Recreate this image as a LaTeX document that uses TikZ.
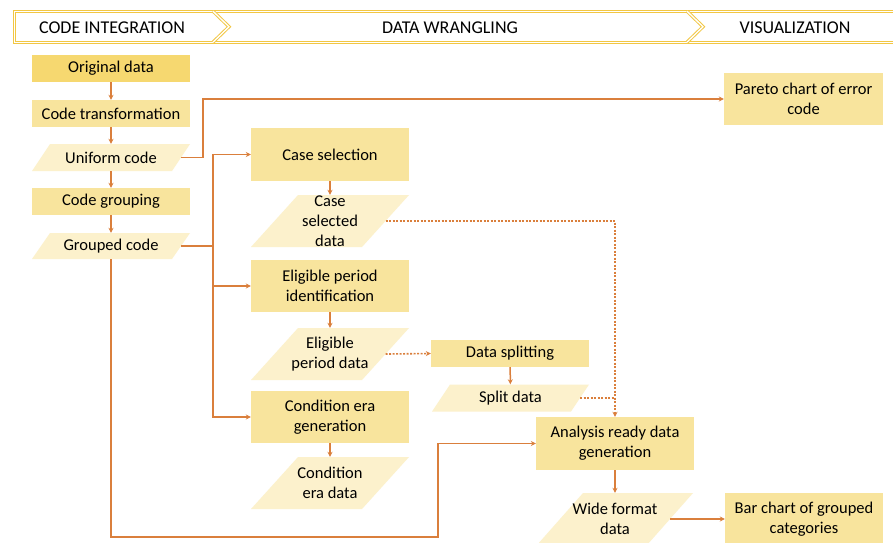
\documentclass[tikz,border=0pt]{standalone}
\usepackage{fontspec}
\setmainfont{Carlito}
\usetikzlibrary{arrows.meta}
\definecolor{gold}{HTML}{F2C744}
\definecolor{darkfill}{HTML}{F6D870}
\definecolor{boxfill}{HTML}{F8E49D}
\definecolor{datafill}{HTML}{FCF1CC}
\definecolor{conncol}{HTML}{DA7F3C}
\newcommand\myBody{\fontsize{16.5}{19.8}\selectfont}
\newcommand\myHead{\fontsize{18}{21}\selectfont}
\tikzset{
  banner/.style={draw=gold, line width=1pt, double=white, double distance=1.3pt, line join=miter},
  headtext/.style={inner sep=0pt, font=\myHead, text=black},
  box/.style={fill=boxfill, inner sep=0pt, minimum width=158pt, align=center, font=\myBody},
  topbox/.style={box, fill=darkfill},
  dtext/.style={inner sep=0pt, align=center, font=\myBody},
  arr/.style={draw=conncol, line width=1.5pt, -{Stealth[length=5pt,width=5pt]}},
  plain/.style={draw=conncol, line width=1.5pt},
  dotarr/.style={draw=conncol, line width=1.6pt, dash pattern=on 1.8pt off 1.7pt, -{Stealth[length=5pt,width=5pt]}},
  dotplain/.style={draw=conncol, line width=1.6pt, dash pattern=on 1.8pt off 1.7pt}
}
% name, cx, cy, midwidth, height, slant, text
\newcommand\mkdata[7]{%
  \fill[datafill] ({#2-#4/2+#6/2},{#3-#5/2}) -- ({#2+#4/2+#6/2},{#3-#5/2}) -- ({#2+#4/2-#6/2},{#3+#5/2}) -- ({#2-#4/2-#6/2},{#3+#5/2}) -- cycle;
  \node[dtext, minimum width=#4pt, minimum height=#5pt] (#1) at (#2,#3) {#7};
}
\begin{document}
\begin{tikzpicture}[x=1pt, y=-1pt]
\useasboundingbox (0,0) rectangle (893,542);
\clip (0,0) rectangle (893,542);
\fill[white] (0,0) rectangle (893,542);
% header banner
\draw[banner] (900,11.2) -- (14.5,11.2) -- (14.5,42.2) -- (900,42.2);
\draw[banner] (213,11.2) -- (229,26.7) -- (213,42.2);
\draw[banner] (687,11.2) -- (703,26.7) -- (687,42.2);
\node[headtext] (h1) at (112,27.5) {CODE INTEGRATION};
\node[headtext] (h2) at (450,27.5) {DATA WRANGLING};
\node[headtext] (h3) at (795,27.5) {VISUALIZATION};
% code integration column
\node[topbox, minimum height=27pt] (orig) at (111,68.5) {Original data};
\node[box, minimum height=27pt] (codetrans) at (111,113.5) {Code transformation};
\mkdata{uniform}{111}{157.5}{140}{27}{18}{Uniform code}
\node[box, minimum height=27pt] (codegroup) at (111,201.5) {Code grouping};
\mkdata{grouped}{111}{246}{140}{26}{18}{Grouped code}
% data wrangling
\node[box, minimum height=53pt] (casesel) at (330,154.5) {Case selection};
\mkdata{casedata}{330}{221}{111}{52}{47}{Case\\selected\\data}
\node[box, minimum height=52pt] (eligid) at (330,286) {Eligible period\\identification};
\mkdata{eligdata}{330}{354}{111}{52}{47}{Eligible\\period data}
\node[box, minimum height=52pt] (condgen) at (330,417) {Condition era\\generation};
\mkdata{conddata}{330}{483}{111}{52}{47}{Condition\\era data}
\node[box, minimum height=27pt] (split) at (510,353.5) {Data splitting};
\mkdata{splitdata}{510.5}{398}{139}{27}{18}{Split data}
\node[box, minimum height=53pt] (analysis) at (615,443.5) {Analysis ready data\\generation};
\mkdata{wide}{615}{519}{110}{52}{46}{Wide format\\data}
% visualization
\node[box, minimum width=159pt, minimum height=52pt] (pareto) at (803.5,99) {Pareto chart of error\\code};
\node[box, minimum height=52pt] (bar) at (804,519) {Bar chart of grouped\\categories};
% connectors
\draw[arr] (orig) -- (codetrans);
\draw[arr] (codetrans) -- (uniform);
\draw[arr] (uniform) -- (codegroup);
\draw[arr] (codegroup) -- (grouped);
\coordinate (ubend) at (203,157.5);
\draw[arr] (uniform.east) -- (ubend) |- (pareto.west);
\coordinate (branch) at (213,246);
\draw[plain] (grouped.east) -- (branch);
\draw[arr] (branch) |- (casesel.west);
\draw[arr] (branch) |- (eligid.west);
\draw[arr] (branch) |- (condgen.west);
\draw[arr] (casesel) -- (casedata);
\draw[arr] (eligid) -- (eligdata);
\draw[arr] (condgen) -- (conddata);
\draw[dotarr] (casedata.east) -| (analysis.north);
\draw[dotarr] (eligdata.east) -- (split.west);
\draw[arr] (split) -- (splitdata);
\draw[dotplain] (splitdata.east) -- (splitdata.east -| analysis.north);
\coordinate (gbot) at (111,537);
\coordinate (gturn) at (438,537);
\draw[arr] (grouped.south) -- (gbot) -- (gturn) |- (analysis.west);
\draw[arr] (analysis) -- (wide);
\draw[arr] (wide.east) -- (bar.west);
\end{tikzpicture}
\end{document}
